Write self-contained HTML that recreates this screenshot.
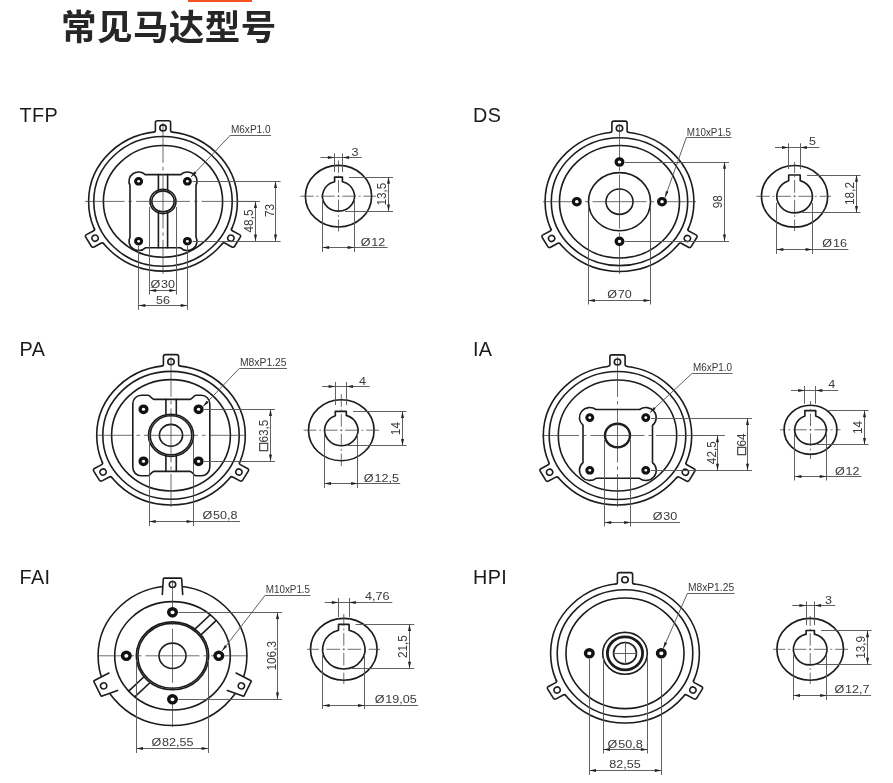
<!DOCTYPE html>
<html lang="zh-CN">
<head>
<meta charset="utf-8">
<title>常见马达型号</title>
<style>
html,body{margin:0;padding:0;background:#fff;}
body{width:893px;height:783px;overflow:hidden;position:relative;font-family:"Liberation Sans","Noto Sans CJK SC",sans-serif;}
.bar{position:absolute;left:188px;top:0;width:64px;height:2px;background:#f4511e;}
h1{position:absolute;left:61.4px;top:1px;margin:0;font-size:35.5px;line-height:54px;font-weight:700;color:#262626;letter-spacing:0.45px;white-space:nowrap;will-change:transform;font-family:"Liberation Sans","Noto Sans CJK SC",sans-serif;}
svg{position:absolute;left:0;top:0;will-change:transform;}
.k{fill:none;stroke:#1c1c1c;stroke-width:1.6;stroke-linecap:round;stroke-linejoin:round;vector-effect:non-scaling-stroke;}
.kf{fill:#fff;vector-effect:non-scaling-stroke;}
.k2{fill:none;stroke:#1c1c1c;stroke-width:1.65;stroke-linejoin:round;}
.b{fill:#fff;stroke:#111;}
.t{stroke:#585858;stroke-width:0.95;fill:none;}
.c{stroke:#3c3c3c;stroke-width:0.75;fill:none;}
.a{fill:#222;stroke:none;}
.d{font-family:"Liberation Sans",sans-serif;font-size:12.6px;fill:#3a3a3a;}
.sq{font-size:14px;stroke:#3a3a3a;stroke-width:0.5;}
.l{font-family:"Liberation Sans",sans-serif;font-size:19.8px;fill:#1a1a1a;letter-spacing:0.35px;}
</style>
</head>
<body>
<div class="bar"></div>
<h1>常见马达型号</h1>
<svg width="893" height="783" viewBox="0 0 893 783">
<text class="l" x="19.6" y="122.4">TFP</text>
<text class="l" x="473" y="122.4">DS</text>
<text class="l" x="19.6" y="355.9">PA</text>
<text class="l" x="473" y="355.9">IA</text>
<text class="l" x="19.6" y="583.9">FAI</text>
<text class="l" x="473" y="583.9">HPI</text>
<g id="tfp">
<ellipse class="k" cx="163" cy="201.4" rx="74.4" ry="69.75"/>
<g transform="translate(163,201.4) scale(1,0.9375) rotate(0)">
<path class="kf" d="M-9.4,-73.83 Q-7.6,-73.83 -7.6,-75.63 L-7.6,-84 Q-7.6,-86 -5.6,-86 L5.6,-86 Q7.6,-86 7.6,-84 L7.6,-75.63 Q7.6,-73.83 9.4,-73.83 L9.4,-71.4 L-9.4,-71.4Z" style="stroke:none"/>
<path class="k" d="M-9.4,-73.83 Q-7.6,-73.83 -7.6,-75.63 L-7.6,-84 Q-7.6,-86 -5.6,-86 L5.6,-86 Q7.6,-86 7.6,-84 L7.6,-75.63 Q7.6,-73.83 9.4,-73.83"/>
<circle class="k" cx="0" cy="-78.4" r="3.2"/>
</g>
<g transform="translate(163,201.4) scale(1,0.9375) rotate(120)">
<path class="kf" d="M-9.4,-73.83 Q-7.6,-73.83 -7.6,-75.63 L-7.6,-84 Q-7.6,-86 -5.6,-86 L5.6,-86 Q7.6,-86 7.6,-84 L7.6,-75.63 Q7.6,-73.83 9.4,-73.83 L9.4,-71.4 L-9.4,-71.4Z" style="stroke:none"/>
<path class="k" d="M-9.4,-73.83 Q-7.6,-73.83 -7.6,-75.63 L-7.6,-84 Q-7.6,-86 -5.6,-86 L5.6,-86 Q7.6,-86 7.6,-84 L7.6,-75.63 Q7.6,-73.83 9.4,-73.83"/>
<circle class="k" cx="0" cy="-78.4" r="3.2"/>
</g>
<g transform="translate(163,201.4) scale(1,0.9375) rotate(240)">
<path class="kf" d="M-9.4,-73.83 Q-7.6,-73.83 -7.6,-75.63 L-7.6,-84 Q-7.6,-86 -5.6,-86 L5.6,-86 Q7.6,-86 7.6,-84 L7.6,-75.63 Q7.6,-73.83 9.4,-73.83 L9.4,-71.4 L-9.4,-71.4Z" style="stroke:none"/>
<path class="k" d="M-9.4,-73.83 Q-7.6,-73.83 -7.6,-75.63 L-7.6,-84 Q-7.6,-86 -5.6,-86 L5.6,-86 Q7.6,-86 7.6,-84 L7.6,-75.63 Q7.6,-73.83 9.4,-73.83"/>
<circle class="k" cx="0" cy="-78.4" r="3.2"/>
</g>
<ellipse class="k" cx="163" cy="201.4" rx="69.2" ry="64.88"/>
<ellipse class="k" cx="163" cy="201.4" rx="59.6" ry="55.88"/>
<path class="k" d="M130,185.44 A9.6,9.31 0 0 1 145.27,174.6 L180.73,174.6 A9.6,9.31 0 0 1 196,185.44 L196,237.06 A9.6,9.31 0 0 1 180.63,247.8 L145.37,247.8 A9.6,9.31 0 0 1 130,237.06 Z"/>
<line class="k" x1="158.4" y1="174.6" x2="158.4" y2="190"/>
<line class="k" x1="158.4" y1="212.6" x2="158.4" y2="247.8"/>
<line class="k" x1="167.6" y1="174.6" x2="167.6" y2="190"/>
<line class="k" x1="167.6" y1="212.6" x2="167.6" y2="247.8"/>
<ellipse class="k" cx="163" cy="201.4" rx="13" ry="12.19"/>
<ellipse class="k" cx="163" cy="201.4" rx="11.2" ry="10.5"/>
<line class="c" x1="163" y1="201.4" x2="85" y2="201.4" stroke-dasharray="27 4 3.5 4 27 0"/>
<line class="c" x1="163" y1="201.4" x2="260" y2="201.4" stroke-dasharray="27 4 3.5 4 27 0"/>
<line class="c" x1="163" y1="201.4" x2="163" y2="123" stroke-dasharray="27 4 3.5 4 27 0"/>
<line class="c" x1="163" y1="201.4" x2="163" y2="274" stroke-dasharray="27 4 3.5 4 27 0"/>
<line class="t" x1="192.5" y1="181.5" x2="280.6" y2="181.5"/>
<line class="t" x1="192.5" y1="241.5" x2="280.6" y2="241.5"/>
<line class="t" x1="275.5" y1="181.3" x2="275.5" y2="241.2"/>
<polygon class="a" points="275.5,181.3 274,188 277,188"/>
<polygon class="a" points="275.5,241.2 274,234.5 277,234.5"/>
<line class="t" x1="236" y1="201.5" x2="259.6" y2="201.5"/>
<text class="d" text-anchor="middle" transform="translate(273.83,210.5) scale(1,0.9375) rotate(-90)">73</text>
<line class="t" x1="255.5" y1="201.4" x2="255.5" y2="241.2"/>
<polygon class="a" points="255.5,201.4 254,208.1 257,208.1"/>
<polygon class="a" points="255.5,241.2 254,234.5 257,234.5"/>
<text class="d" text-anchor="middle" transform="translate(253.33,221) scale(1,0.9375) rotate(-90)">48,5</text>
<line class="t" x1="149.5" y1="207" x2="149.5" y2="294.6"/>
<line class="t" x1="176.5" y1="207" x2="176.5" y2="294.6"/>
<line class="t" x1="149.5" y1="290.5" x2="176" y2="290.5"/>
<polygon class="a" points="149.5,290.5 156.2,289 156.2,292"/>
<polygon class="a" points="176,290.5 169.3,289 169.3,292"/>
<text class="d" text-anchor="middle" transform="translate(162.8,288.36) scale(1,0.9375)">Ø<tspan dx="0.8">30</tspan></text>
<line class="t" x1="138.5" y1="246" x2="138.5" y2="309.8"/>
<line class="t" x1="187.5" y1="246" x2="187.5" y2="309.8"/>
<line class="t" x1="138.6" y1="305.5" x2="187.4" y2="305.5"/>
<polygon class="a" points="138.6,305.5 145.3,304 145.3,307"/>
<polygon class="a" points="187.4,305.5 180.7,304 180.7,307"/>
<text class="d" text-anchor="middle" transform="translate(163,303.56) scale(1,0.9375)">56</text>
<line class="t" x1="191" y1="177" x2="230.5" y2="135"/>
<line class="t" x1="230.5" y1="135.5" x2="271" y2="135.5"/>
<polygon class="a" points="191,177 194.43,171.31 196.47,173.22"/>
<text class="d" transform="translate(230.9,133) scale(1,0.9375)" textLength="39.7" lengthAdjust="spacingAndGlyphs">M6xP1.0</text>
<ellipse class="k2" cx="338.5" cy="196.2" rx="33.1" ry="30.78"/>
<path class="k2" d="M334.6,181.77 L334.6,177.1 L342.4,177.1 L342.4,181.77 A16,14.88 0 1 1 334.6,181.77Z"/>
<line class="c" x1="338.5" y1="196.2" x2="300.5" y2="196.2" stroke-dasharray="1 2.8 13.5 2.8 1 0"/>
<line class="c" x1="338.5" y1="196.2" x2="376" y2="196.2" stroke-dasharray="1 2.8 13.5 2.8 1 0"/>
<line class="c" x1="338.5" y1="196.2" x2="338.5" y2="160.5" stroke-dasharray="0.94 2.62 12.66 2.62 0.94 0"/>
<line class="c" x1="338.5" y1="196.2" x2="338.5" y2="231.5" stroke-dasharray="0.94 2.62 12.66 2.62 0.94 0"/>
<line class="t" x1="334.5" y1="153.3" x2="334.5" y2="172"/>
<line class="t" x1="342.5" y1="153.3" x2="342.5" y2="172"/>
<line class="t" x1="320.5" y1="157.5" x2="361.7" y2="157.5"/>
<polygon class="a" points="334.6,157.5 327.9,156 327.9,159"/>
<polygon class="a" points="342.4,157.5 349.1,156 349.1,159"/>
<text class="d" text-anchor="middle" transform="translate(355,156.06) scale(1,0.9375)">3</text>
<line class="t" x1="349" y1="177.5" x2="393" y2="177.5"/>
<line class="t" x1="345" y1="211.5" x2="393" y2="211.5"/>
<line class="t" x1="388.5" y1="177.1" x2="388.5" y2="211.2"/>
<polygon class="a" points="388.5,177.1 387,183.8 390,183.8"/>
<polygon class="a" points="388.5,211.2 387,204.5 390,204.5"/>
<text class="d" text-anchor="middle" transform="translate(386.43,194.1) scale(1,0.9375) rotate(-90)">13,5</text>
<line class="t" x1="322.5" y1="199" x2="322.5" y2="252"/>
<line class="t" x1="354.5" y1="199" x2="354.5" y2="252"/>
<line class="t" x1="322.4" y1="247.5" x2="387.6" y2="247.5"/>
<polygon class="a" points="322.4,247.5 329.1,246 329.1,249"/>
<polygon class="a" points="354.3,247.5 347.6,246 347.6,249"/>
<text class="d" text-anchor="middle" transform="translate(373,245.96) scale(1,0.9375)">Ø<tspan dx="0.8">12</tspan></text>
<ellipse class="b" cx="138.6" cy="181.3" rx="3" ry="2.81" style="stroke-width:3.0"/>
<ellipse class="b" cx="187.4" cy="181.3" rx="3" ry="2.81" style="stroke-width:3.0"/>
<ellipse class="b" cx="138.6" cy="241.2" rx="3" ry="2.81" style="stroke-width:3.0"/>
<ellipse class="b" cx="187.4" cy="241.2" rx="3" ry="2.81" style="stroke-width:3.0"/>
</g>
<g id="ds">
<ellipse class="k" cx="619.5" cy="201.7" rx="74.4" ry="69.75"/>
<g transform="translate(619.5,201.7) scale(1,0.9375) rotate(0)">
<path class="kf" d="M-9.4,-73.83 Q-7.6,-73.83 -7.6,-75.63 L-7.6,-84 Q-7.6,-86 -5.6,-86 L5.6,-86 Q7.6,-86 7.6,-84 L7.6,-75.63 Q7.6,-73.83 9.4,-73.83 L9.4,-71.4 L-9.4,-71.4Z" style="stroke:none"/>
<path class="k" d="M-9.4,-73.83 Q-7.6,-73.83 -7.6,-75.63 L-7.6,-84 Q-7.6,-86 -5.6,-86 L5.6,-86 Q7.6,-86 7.6,-84 L7.6,-75.63 Q7.6,-73.83 9.4,-73.83"/>
<circle class="k" cx="0" cy="-78.4" r="3.2"/>
</g>
<g transform="translate(619.5,201.7) scale(1,0.9375) rotate(120)">
<path class="kf" d="M-9.4,-73.83 Q-7.6,-73.83 -7.6,-75.63 L-7.6,-84 Q-7.6,-86 -5.6,-86 L5.6,-86 Q7.6,-86 7.6,-84 L7.6,-75.63 Q7.6,-73.83 9.4,-73.83 L9.4,-71.4 L-9.4,-71.4Z" style="stroke:none"/>
<path class="k" d="M-9.4,-73.83 Q-7.6,-73.83 -7.6,-75.63 L-7.6,-84 Q-7.6,-86 -5.6,-86 L5.6,-86 Q7.6,-86 7.6,-84 L7.6,-75.63 Q7.6,-73.83 9.4,-73.83"/>
<circle class="k" cx="0" cy="-78.4" r="3.2"/>
</g>
<g transform="translate(619.5,201.7) scale(1,0.9375) rotate(240)">
<path class="kf" d="M-9.4,-73.83 Q-7.6,-73.83 -7.6,-75.63 L-7.6,-84 Q-7.6,-86 -5.6,-86 L5.6,-86 Q7.6,-86 7.6,-84 L7.6,-75.63 Q7.6,-73.83 9.4,-73.83 L9.4,-71.4 L-9.4,-71.4Z" style="stroke:none"/>
<path class="k" d="M-9.4,-73.83 Q-7.6,-73.83 -7.6,-75.63 L-7.6,-84 Q-7.6,-86 -5.6,-86 L5.6,-86 Q7.6,-86 7.6,-84 L7.6,-75.63 Q7.6,-73.83 9.4,-73.83"/>
<circle class="k" cx="0" cy="-78.4" r="3.2"/>
</g>
<ellipse class="k" cx="619.5" cy="201.7" rx="68.2" ry="63.94"/>
<ellipse class="k" cx="619.5" cy="201.7" rx="60" ry="56.25"/>
<ellipse class="k" cx="619.5" cy="201.7" rx="31" ry="29.06"/>
<ellipse class="k" cx="619.5" cy="201.7" rx="13.5" ry="12.66"/>
<line class="c" x1="619.5" y1="201.7" x2="543" y2="201.7" stroke-dasharray="27 4 3.5 4 27 0"/>
<line class="c" x1="619.5" y1="201.7" x2="696" y2="201.7" stroke-dasharray="27 4 3.5 4 27 0"/>
<line class="c" x1="619.5" y1="201.7" x2="619.5" y2="124" stroke-dasharray="27 4 3.5 4 27 0"/>
<line class="c" x1="619.5" y1="201.7" x2="619.5" y2="274" stroke-dasharray="27 4 3.5 4 27 0"/>
<line class="t" x1="625" y1="162.5" x2="729" y2="162.5"/>
<line class="t" x1="625" y1="241.5" x2="729" y2="241.5"/>
<line class="t" x1="724.5" y1="162" x2="724.5" y2="241.3"/>
<polygon class="a" points="724.5,162 723,168.7 726,168.7"/>
<polygon class="a" points="724.5,241.3 723,234.6 726,234.6"/>
<text class="d" text-anchor="middle" transform="translate(722.33,201.7) scale(1,0.9375) rotate(-90)">98</text>
<line class="t" x1="588.5" y1="207" x2="588.5" y2="304.5"/>
<line class="t" x1="650.5" y1="207" x2="650.5" y2="304.5"/>
<line class="t" x1="588.2" y1="300.5" x2="650.3" y2="300.5"/>
<polygon class="a" points="588.2,300.5 594.9,299 594.9,302"/>
<polygon class="a" points="650.3,300.5 643.6,299 643.6,302"/>
<text class="d" text-anchor="middle" transform="translate(619.5,297.86) scale(1,0.9375)">Ø<tspan dx="0.8">70</tspan></text>
<line class="t" x1="665" y1="197.5" x2="686.3" y2="137.5"/>
<line class="t" x1="686.3" y1="137.5" x2="731.5" y2="137.5"/>
<polygon class="a" points="665,197.5 665.86,190.91 668.49,191.84"/>
<text class="d" transform="translate(686.7,135.5) scale(1,0.9375)" textLength="44.4" lengthAdjust="spacingAndGlyphs">M10xP1.5</text>
<ellipse class="k2" cx="794.6" cy="196.3" rx="33.1" ry="30.78"/>
<path class="k2" d="M788.7,180.68 L788.7,175 L800.2,175 L800.2,180.59 A17.8,16.55 0 1 1 788.7,180.68Z"/>
<line class="c" x1="794.6" y1="196.3" x2="756.5" y2="196.3" stroke-dasharray="1 2.8 13.5 2.8 1 0"/>
<line class="c" x1="794.6" y1="196.3" x2="831" y2="196.3" stroke-dasharray="1 2.8 13.5 2.8 1 0"/>
<line class="c" x1="794.6" y1="196.3" x2="794.6" y2="162" stroke-dasharray="0.94 2.62 12.66 2.62 0.94 0"/>
<line class="c" x1="794.6" y1="196.3" x2="794.6" y2="231" stroke-dasharray="0.94 2.62 12.66 2.62 0.94 0"/>
<line class="t" x1="788.5" y1="143.3" x2="788.5" y2="169"/>
<line class="t" x1="800.5" y1="143.3" x2="800.5" y2="169"/>
<line class="t" x1="775" y1="147.5" x2="819.4" y2="147.5"/>
<polygon class="a" points="788.7,147.5 782,146 782,149"/>
<polygon class="a" points="800.2,147.5 806.9,146 806.9,149"/>
<text class="d" text-anchor="middle" transform="translate(812.6,145.26) scale(1,0.9375)">5</text>
<line class="t" x1="807" y1="175.5" x2="860.5" y2="175.5"/>
<line class="t" x1="802" y1="212.5" x2="860.5" y2="212.5"/>
<line class="t" x1="856.5" y1="175" x2="856.5" y2="212.7"/>
<polygon class="a" points="856.5,175 855,181.7 858,181.7"/>
<polygon class="a" points="856.5,212.7 855,206 858,206"/>
<text class="d" text-anchor="middle" transform="translate(854.33,193.5) scale(1,0.9375) rotate(-90)">18,2</text>
<line class="t" x1="776.5" y1="203" x2="776.5" y2="254"/>
<line class="t" x1="812.5" y1="203" x2="812.5" y2="254"/>
<line class="t" x1="776.6" y1="249.5" x2="848.4" y2="249.5"/>
<polygon class="a" points="776.6,249.5 783.3,248 783.3,251"/>
<polygon class="a" points="812.3,249.5 805.6,248 805.6,251"/>
<text class="d" text-anchor="middle" transform="translate(834.6,247.46) scale(1,0.9375)">Ø<tspan dx="0.8">16</tspan></text>
<ellipse class="b" cx="619.5" cy="162" rx="3.4" ry="3.19" style="stroke-width:3.2"/>
<ellipse class="b" cx="619.5" cy="241.3" rx="3.4" ry="3.19" style="stroke-width:3.2"/>
<ellipse class="b" cx="576.8" cy="201.7" rx="3.4" ry="3.19" style="stroke-width:3.2"/>
<ellipse class="b" cx="662" cy="201.7" rx="3.4" ry="3.19" style="stroke-width:3.2"/>
</g>
<g id="pa">
<ellipse class="k" cx="171" cy="435.3" rx="74.3" ry="69.66"/>
<g transform="translate(171,435.3) scale(1,0.9375) rotate(0)">
<path class="kf" d="M-9.4,-73.83 Q-7.6,-73.83 -7.6,-75.63 L-7.6,-84 Q-7.6,-86 -5.6,-86 L5.6,-86 Q7.6,-86 7.6,-84 L7.6,-75.63 Q7.6,-73.83 9.4,-73.83 L9.4,-71.4 L-9.4,-71.4Z" style="stroke:none"/>
<path class="k" d="M-9.4,-73.83 Q-7.6,-73.83 -7.6,-75.63 L-7.6,-84 Q-7.6,-86 -5.6,-86 L5.6,-86 Q7.6,-86 7.6,-84 L7.6,-75.63 Q7.6,-73.83 9.4,-73.83"/>
<circle class="k" cx="0" cy="-78.4" r="3.2"/>
</g>
<g transform="translate(171,435.3) scale(1,0.9375) rotate(120)">
<path class="kf" d="M-9.4,-73.83 Q-7.6,-73.83 -7.6,-75.63 L-7.6,-84 Q-7.6,-86 -5.6,-86 L5.6,-86 Q7.6,-86 7.6,-84 L7.6,-75.63 Q7.6,-73.83 9.4,-73.83 L9.4,-71.4 L-9.4,-71.4Z" style="stroke:none"/>
<path class="k" d="M-9.4,-73.83 Q-7.6,-73.83 -7.6,-75.63 L-7.6,-84 Q-7.6,-86 -5.6,-86 L5.6,-86 Q7.6,-86 7.6,-84 L7.6,-75.63 Q7.6,-73.83 9.4,-73.83"/>
<circle class="k" cx="0" cy="-78.4" r="3.2"/>
</g>
<g transform="translate(171,435.3) scale(1,0.9375) rotate(240)">
<path class="kf" d="M-9.4,-73.83 Q-7.6,-73.83 -7.6,-75.63 L-7.6,-84 Q-7.6,-86 -5.6,-86 L5.6,-86 Q7.6,-86 7.6,-84 L7.6,-75.63 Q7.6,-73.83 9.4,-73.83 L9.4,-71.4 L-9.4,-71.4Z" style="stroke:none"/>
<path class="k" d="M-9.4,-73.83 Q-7.6,-73.83 -7.6,-75.63 L-7.6,-84 Q-7.6,-86 -5.6,-86 L5.6,-86 Q7.6,-86 7.6,-84 L7.6,-75.63 Q7.6,-73.83 9.4,-73.83"/>
<circle class="k" cx="0" cy="-78.4" r="3.2"/>
</g>
<ellipse class="k" cx="171" cy="435.3" rx="68.2" ry="63.94"/>
<ellipse class="k" cx="171" cy="435.3" rx="59.4" ry="55.69"/>
<path class="k" d="M132.8,403.8 A8.5,8.5 0 0 1 141.3,395.3 L148,395.3 C150.5,395.3 151.5,399.4 154,399.4 L190,399.4 C192.5,399.4 193.5,395.3 196,395.3 L201.3,395.3 A8.5,8.5 0 0 1 209.8,403.8 L209.8,467.3 A8.5,8.5 0 0 1 201.3,475.8 L196,475.8 C193.5,475.8 192.5,471.4 190,471.4 L154,471.4 C151.5,471.4 150.5,475.8 148,475.8 L141.3,475.8 A8.5,8.5 0 0 1 132.8,467.3 Z"/>
<line class="k" x1="165.9" y1="399.4" x2="165.9" y2="415.2"/>
<line class="k" x1="165.9" y1="455.6" x2="165.9" y2="471.4"/>
<line class="k" x1="176.3" y1="399.4" x2="176.3" y2="415.2"/>
<line class="k" x1="176.3" y1="455.6" x2="176.3" y2="471.4"/>
<ellipse class="k" cx="171" cy="435.3" rx="22.5" ry="21.09"/>
<ellipse class="k" cx="171" cy="435.3" rx="20.8" ry="19.5"/>
<ellipse class="k" cx="171" cy="435.3" rx="11.6" ry="10.88"/>
<line class="c" x1="171" y1="435.3" x2="96" y2="435.3" stroke-dasharray="27 4 3.5 4 27 0"/>
<line class="c" x1="171" y1="435.3" x2="246" y2="435.3" stroke-dasharray="27 4 3.5 4 27 0"/>
<line class="c" x1="171" y1="435.3" x2="171" y2="357" stroke-dasharray="27 4 3.5 4 27 0"/>
<line class="c" x1="171" y1="435.3" x2="171" y2="507" stroke-dasharray="27 4 3.5 4 27 0"/>
<line class="t" x1="204" y1="409.5" x2="275" y2="409.5"/>
<line class="t" x1="204" y1="461.5" x2="275" y2="461.5"/>
<line class="t" x1="270.5" y1="409.3" x2="270.5" y2="461.3"/>
<polygon class="a" points="270.5,409.3 269,416 272,416"/>
<polygon class="a" points="270.5,461.3 269,454.6 272,454.6"/>
<text class="d" text-anchor="middle" transform="translate(268.13,435.3) scale(1,0.9375) rotate(-90)"><tspan class="sq">□</tspan><tspan dx="0.6">63,5</tspan></text>
<line class="t" x1="149.5" y1="440" x2="149.5" y2="526"/>
<line class="t" x1="193.5" y1="440" x2="193.5" y2="526"/>
<line class="t" x1="149" y1="521.5" x2="240" y2="521.5"/>
<polygon class="a" points="149,521.5 155.7,520 155.7,523"/>
<polygon class="a" points="193.3,521.5 186.6,520 186.6,523"/>
<text class="d" text-anchor="middle" transform="translate(220,519.06) scale(1,0.9375)">Ø<tspan dx="0.8">50,8</tspan></text>
<line class="t" x1="203" y1="406.5" x2="239.5" y2="368.2"/>
<line class="t" x1="239.5" y1="368.5" x2="287" y2="368.5"/>
<polygon class="a" points="203,406.5 206.47,400.83 208.5,402.76"/>
<text class="d" transform="translate(239.9,366.2) scale(1,0.9375)" textLength="46.7" lengthAdjust="spacingAndGlyphs">M8xP1.25</text>
<ellipse class="k2" cx="341.3" cy="430.2" rx="32.8" ry="30.5"/>
<path class="k2" d="M335.3,415.71 L335.3,411.4 L346.3,411.4 L346.3,415.38 A16.7,15.53 0 1 1 335.3,415.71Z"/>
<line class="c" x1="341.3" y1="430.2" x2="303.5" y2="430.2" stroke-dasharray="1 2.8 13.5 2.8 1 0"/>
<line class="c" x1="341.3" y1="430.2" x2="379" y2="430.2" stroke-dasharray="1 2.8 13.5 2.8 1 0"/>
<line class="c" x1="341.3" y1="430.2" x2="341.3" y2="394" stroke-dasharray="0.94 2.62 12.66 2.62 0.94 0"/>
<line class="c" x1="341.3" y1="430.2" x2="341.3" y2="468" stroke-dasharray="0.94 2.62 12.66 2.62 0.94 0"/>
<line class="t" x1="335.5" y1="382" x2="335.5" y2="405"/>
<line class="t" x1="346.5" y1="382" x2="346.5" y2="405"/>
<line class="t" x1="322.1" y1="386.5" x2="369.6" y2="386.5"/>
<polygon class="a" points="335.3,386.5 328.6,385 328.6,388"/>
<polygon class="a" points="346.3,386.5 353,385 353,388"/>
<text class="d" text-anchor="middle" transform="translate(362.5,384.76) scale(1,0.9375)">4</text>
<line class="t" x1="353" y1="411.5" x2="406.5" y2="411.5"/>
<line class="t" x1="348" y1="445.5" x2="406.5" y2="445.5"/>
<line class="t" x1="402.5" y1="411.4" x2="402.5" y2="445.6"/>
<polygon class="a" points="402.5,411.4 401,418.1 404,418.1"/>
<polygon class="a" points="402.5,445.6 401,438.9 404,438.9"/>
<text class="d" text-anchor="middle" transform="translate(400.33,428.6) scale(1,0.9375) rotate(-90)">14</text>
<line class="t" x1="324.5" y1="434" x2="324.5" y2="488"/>
<line class="t" x1="357.5" y1="434" x2="357.5" y2="488"/>
<line class="t" x1="324.3" y1="483.5" x2="400.2" y2="483.5"/>
<polygon class="a" points="324.3,483.5 331,482 331,485"/>
<polygon class="a" points="357.8,483.5 351.1,482 351.1,485"/>
<text class="d" text-anchor="middle" transform="translate(381.4,481.66) scale(1,0.9375)">Ø<tspan dx="0.8">12,5</tspan></text>
<ellipse class="b" cx="143.5" cy="409.3" rx="3.4" ry="3.19" style="stroke-width:3.3"/>
<ellipse class="b" cx="198.6" cy="409.3" rx="3.4" ry="3.19" style="stroke-width:3.3"/>
<ellipse class="b" cx="143.5" cy="461.3" rx="3.4" ry="3.19" style="stroke-width:3.3"/>
<ellipse class="b" cx="198.6" cy="461.3" rx="3.4" ry="3.19" style="stroke-width:3.3"/>
</g>
<g id="ia">
<ellipse class="k" cx="617.5" cy="435.5" rx="74.2" ry="69.56"/>
<g transform="translate(617.5,435.5) scale(1,0.9375) rotate(0)">
<path class="kf" d="M-9.4,-73.83 Q-7.6,-73.83 -7.6,-75.63 L-7.6,-84 Q-7.6,-86 -5.6,-86 L5.6,-86 Q7.6,-86 7.6,-84 L7.6,-75.63 Q7.6,-73.83 9.4,-73.83 L9.4,-71.4 L-9.4,-71.4Z" style="stroke:none"/>
<path class="k" d="M-9.4,-73.83 Q-7.6,-73.83 -7.6,-75.63 L-7.6,-84 Q-7.6,-86 -5.6,-86 L5.6,-86 Q7.6,-86 7.6,-84 L7.6,-75.63 Q7.6,-73.83 9.4,-73.83"/>
<circle class="k" cx="0" cy="-78.4" r="3.2"/>
</g>
<g transform="translate(617.5,435.5) scale(1,0.9375) rotate(120)">
<path class="kf" d="M-9.4,-73.83 Q-7.6,-73.83 -7.6,-75.63 L-7.6,-84 Q-7.6,-86 -5.6,-86 L5.6,-86 Q7.6,-86 7.6,-84 L7.6,-75.63 Q7.6,-73.83 9.4,-73.83 L9.4,-71.4 L-9.4,-71.4Z" style="stroke:none"/>
<path class="k" d="M-9.4,-73.83 Q-7.6,-73.83 -7.6,-75.63 L-7.6,-84 Q-7.6,-86 -5.6,-86 L5.6,-86 Q7.6,-86 7.6,-84 L7.6,-75.63 Q7.6,-73.83 9.4,-73.83"/>
<circle class="k" cx="0" cy="-78.4" r="3.2"/>
</g>
<g transform="translate(617.5,435.5) scale(1,0.9375) rotate(240)">
<path class="kf" d="M-9.4,-73.83 Q-7.6,-73.83 -7.6,-75.63 L-7.6,-84 Q-7.6,-86 -5.6,-86 L5.6,-86 Q7.6,-86 7.6,-84 L7.6,-75.63 Q7.6,-73.83 9.4,-73.83 L9.4,-71.4 L-9.4,-71.4Z" style="stroke:none"/>
<path class="k" d="M-9.4,-73.83 Q-7.6,-73.83 -7.6,-75.63 L-7.6,-84 Q-7.6,-86 -5.6,-86 L5.6,-86 Q7.6,-86 7.6,-84 L7.6,-75.63 Q7.6,-73.83 9.4,-73.83"/>
<circle class="k" cx="0" cy="-78.4" r="3.2"/>
</g>
<ellipse class="k" cx="617.5" cy="435.5" rx="68.3" ry="64.03"/>
<ellipse class="k" cx="617.5" cy="435.5" rx="59.2" ry="55.5"/>
<path class="k" d="M583,425.23 A10.4,10.09 0 0 1 596,409.5 L639.6,409.5 A10.4,10.09 0 0 1 652.5,425.32 L652.5,462.58 A10.4,10.09 0 0 1 639.46,478.3 L596.14,478.3 A10.4,10.09 0 0 1 583,462.67 Z"/>
<ellipse class="k" cx="617.5" cy="435.5" rx="12.5" ry="11.72" style="stroke-width:2.4"/>
<line class="c" x1="617.5" y1="435.5" x2="542" y2="435.5" stroke-dasharray="27 4 3.5 4 27 0"/>
<line class="c" x1="617.5" y1="435.5" x2="725" y2="435.5" stroke-dasharray="27 4 3.5 4 27 0"/>
<line class="c" x1="617.5" y1="435.5" x2="617.5" y2="357" stroke-dasharray="27 4 3.5 4 27 0"/>
<line class="c" x1="617.5" y1="435.5" x2="617.5" y2="507" stroke-dasharray="27 4 3.5 4 27 0"/>
<line class="t" x1="651" y1="418.5" x2="752" y2="418.5"/>
<line class="t" x1="651" y1="470.5" x2="752" y2="470.5"/>
<line class="t" x1="747.5" y1="418.2" x2="747.5" y2="470.4"/>
<polygon class="a" points="747.5,418.2 746,424.9 749,424.9"/>
<polygon class="a" points="747.5,470.4 746,463.7 749,463.7"/>
<line class="t" x1="694" y1="435.5" x2="722.6" y2="435.5"/>
<text class="d" text-anchor="middle" transform="translate(746.03,444.2) scale(1,0.9375) rotate(-90)"><tspan class="sq">□</tspan><tspan dx="0.6">64</tspan></text>
<line class="t" x1="717.5" y1="435.5" x2="717.5" y2="470.4"/>
<polygon class="a" points="717.5,435.5 716,442.2 719,442.2"/>
<polygon class="a" points="717.5,470.4 716,463.7 719,463.7"/>
<text class="d" text-anchor="middle" transform="translate(716.33,452.7) scale(1,0.9375) rotate(-90)">42,5</text>
<line class="t" x1="604.5" y1="440" x2="604.5" y2="526.5"/>
<line class="t" x1="630.5" y1="440" x2="630.5" y2="526.5"/>
<line class="t" x1="604.5" y1="522.5" x2="680" y2="522.5"/>
<polygon class="a" points="604.5,522.5 611.2,521 611.2,524"/>
<polygon class="a" points="630.8,522.5 624.1,521 624.1,524"/>
<text class="d" text-anchor="middle" transform="translate(665,520.36) scale(1,0.9375)">Ø<tspan dx="0.8">30</tspan></text>
<line class="t" x1="650" y1="412.5" x2="692.5" y2="373"/>
<line class="t" x1="692.5" y1="373.5" x2="732.5" y2="373.5"/>
<polygon class="a" points="650,412.5 653.81,407.05 655.71,409.1"/>
<text class="d" transform="translate(692.9,371) scale(1,0.9375)" textLength="39.2" lengthAdjust="spacingAndGlyphs">M6xP1.0</text>
<ellipse class="k2" cx="810.5" cy="429.8" rx="26.4" ry="24.55"/>
<path class="k2" d="M804.9,416.06 L804.9,410.6 L815.7,410.6 L815.7,415.92 A15.8,14.69 0 1 1 804.9,416.06Z"/>
<line class="c" x1="810.5" y1="429.8" x2="780" y2="429.8" stroke-dasharray="1 2.8 13.5 2.8 1 0"/>
<line class="c" x1="810.5" y1="429.8" x2="840.5" y2="429.8" stroke-dasharray="1 2.8 13.5 2.8 1 0"/>
<line class="c" x1="810.5" y1="429.8" x2="810.5" y2="401" stroke-dasharray="0.94 2.62 12.66 2.62 0.94 0"/>
<line class="c" x1="810.5" y1="429.8" x2="810.5" y2="459" stroke-dasharray="0.94 2.62 12.66 2.62 0.94 0"/>
<line class="t" x1="804.5" y1="386" x2="804.5" y2="403.8"/>
<line class="t" x1="815.5" y1="386" x2="815.5" y2="403.8"/>
<line class="t" x1="791" y1="390.5" x2="838.4" y2="390.5"/>
<polygon class="a" points="804.9,390.5 798.2,389 798.2,392"/>
<polygon class="a" points="815.7,390.5 822.4,389 822.4,392"/>
<text class="d" text-anchor="middle" transform="translate(831.7,388.46) scale(1,0.9375)">4</text>
<line class="t" x1="827" y1="410.5" x2="868.5" y2="410.5"/>
<line class="t" x1="817" y1="444.5" x2="868.5" y2="444.5"/>
<line class="t" x1="864.5" y1="410.6" x2="864.5" y2="444.6"/>
<polygon class="a" points="864.5,410.6 863,417.3 866,417.3"/>
<polygon class="a" points="864.5,444.6 863,437.9 866,437.9"/>
<text class="d" text-anchor="middle" transform="translate(861.83,427.5) scale(1,0.9375) rotate(-90)">14</text>
<line class="t" x1="794.5" y1="434" x2="794.5" y2="480.5"/>
<line class="t" x1="826.5" y1="434" x2="826.5" y2="480.5"/>
<line class="t" x1="794.8" y1="476.5" x2="861.4" y2="476.5"/>
<polygon class="a" points="794.8,476.5 801.5,475 801.5,478"/>
<polygon class="a" points="826.4,476.5 819.7,475 819.7,478"/>
<text class="d" text-anchor="middle" transform="translate(847.2,474.86) scale(1,0.9375)">Ø<tspan dx="0.8">12</tspan></text>
<ellipse class="b" cx="589.8" cy="417.6" rx="3" ry="2.81" style="stroke-width:3.0"/>
<ellipse class="b" cx="645.8" cy="417.6" rx="3" ry="2.81" style="stroke-width:3.0"/>
<ellipse class="b" cx="589.8" cy="470.3" rx="3" ry="2.81" style="stroke-width:3.0"/>
<ellipse class="b" cx="645.8" cy="470.3" rx="3" ry="2.81" style="stroke-width:3.0"/>
</g>
<g id="fai">
<ellipse class="k" cx="172.5" cy="655.8" rx="74.4" ry="69.75"/>
<g transform="translate(172.5,655.8) scale(1,0.9375) rotate(0)">
<path class="kf" d="M-10,-71.4 L-9.2,-81.9 L9.2,-81.9 L10,-71.4Z" style="stroke:none"/>
<path class="k" d="M-10.2,-65.4 L-9.2,-81.9 Q-9.2,-82.9 -8.2,-82.9 L8.2,-82.9 Q9.2,-82.9 9.2,-81.9 L10.2,-65.4"/>
<circle class="k" cx="0" cy="-76" r="3.2"/>
</g>
<g transform="translate(172.5,655.8) scale(1,0.9375) rotate(115)">
<path class="kf" d="M-10,-71.4 L-9.2,-81.9 L9.2,-81.9 L10,-71.4Z" style="stroke:none"/>
<path class="k" d="M-10.2,-65.4 L-9.2,-81.9 Q-9.2,-82.9 -8.2,-82.9 L8.2,-82.9 Q9.2,-82.9 9.2,-81.9 L10.2,-65.4"/>
<circle class="k" cx="0" cy="-76" r="3.2"/>
</g>
<g transform="translate(172.5,655.8) scale(1,0.9375) rotate(245)">
<path class="kf" d="M-10,-71.4 L-9.2,-81.9 L9.2,-81.9 L10,-71.4Z" style="stroke:none"/>
<path class="k" d="M-10.2,-65.4 L-9.2,-81.9 Q-9.2,-82.9 -8.2,-82.9 L8.2,-82.9 Q9.2,-82.9 9.2,-81.9 L10.2,-65.4"/>
<circle class="k" cx="0" cy="-76" r="3.2"/>
</g>
<ellipse class="k" cx="172.5" cy="655.8" rx="57.8" ry="54.19"/>
<g transform="translate(172.5,655.8) scale(1,0.9375)">
<line class="k" x1="22.38" y1="-28.46" x2="37.72" y2="-43.8"/>
<line class="k" x1="28.46" y1="-22.38" x2="43.8" y2="-37.72"/>
<line class="k" x1="-28.46" y1="22.38" x2="-43.8" y2="37.72"/>
<line class="k" x1="-22.38" y1="28.46" x2="-37.72" y2="43.8"/>
</g>
<ellipse class="k" cx="172.5" cy="655.8" rx="36.2" ry="33.94"/>
<ellipse class="k" cx="172.5" cy="655.8" rx="34.6" ry="32.44"/>
<ellipse class="k" cx="172.5" cy="655.8" rx="13.5" ry="12.66"/>
<line class="c" x1="172.5" y1="655.8" x2="97" y2="655.8" stroke-dasharray="27 4 3.5 4 27 0"/>
<line class="c" x1="172.5" y1="655.8" x2="248" y2="655.8" stroke-dasharray="27 4 3.5 4 27 0"/>
<line class="c" x1="172.5" y1="655.8" x2="172.5" y2="580" stroke-dasharray="27 4 3.5 4 27 0"/>
<line class="c" x1="172.5" y1="655.8" x2="172.5" y2="727" stroke-dasharray="27 4 3.5 4 27 0"/>
<line class="t" x1="178.5" y1="612.5" x2="282" y2="612.5"/>
<line class="t" x1="178.5" y1="699.5" x2="282" y2="699.5"/>
<line class="t" x1="277.5" y1="612.3" x2="277.5" y2="699.3"/>
<polygon class="a" points="277.5,612.3 276,619 279,619"/>
<polygon class="a" points="277.5,699.3 276,692.6 279,692.6"/>
<text class="d" text-anchor="middle" transform="translate(275.63,655.8) scale(1,0.9375) rotate(-90)">106,3</text>
<line class="t" x1="136.5" y1="660" x2="136.5" y2="753"/>
<line class="t" x1="208.5" y1="660" x2="208.5" y2="753"/>
<line class="t" x1="136.3" y1="748.5" x2="208.3" y2="748.5"/>
<polygon class="a" points="136.3,748.5 143,747 143,750"/>
<polygon class="a" points="208.3,748.5 201.6,747 201.6,750"/>
<text class="d" text-anchor="middle" transform="translate(172.5,746.46) scale(1,0.9375)">Ø<tspan dx="0.8">82,55</tspan></text>
<line class="t" x1="222" y1="651" x2="265.3" y2="595.1"/>
<line class="t" x1="265.3" y1="595.5" x2="310.5" y2="595.5"/>
<polygon class="a" points="222,651 224.87,645 227.09,646.72"/>
<text class="d" transform="translate(265.7,593.1) scale(1,0.9375)" textLength="44.4" lengthAdjust="spacingAndGlyphs">M10xP1.5</text>
<ellipse class="k2" cx="343.8" cy="649.3" rx="33.3" ry="30.97"/>
<path class="k2" d="M338.5,630.21 L338.5,624.4 L349.1,624.4 L349.1,630.21 A21.2,19.72 0 1 1 338.5,630.21Z"/>
<line class="c" x1="343.8" y1="649.3" x2="307" y2="649.3" stroke-dasharray="1 2.8 13.5 2.8 1 0"/>
<line class="c" x1="343.8" y1="649.3" x2="380" y2="649.3" stroke-dasharray="1 2.8 13.5 2.8 1 0"/>
<line class="c" x1="343.8" y1="649.3" x2="343.8" y2="614" stroke-dasharray="0.94 2.62 12.66 2.62 0.94 0"/>
<line class="c" x1="343.8" y1="649.3" x2="343.8" y2="684" stroke-dasharray="0.94 2.62 12.66 2.62 0.94 0"/>
<line class="t" x1="338.5" y1="598" x2="338.5" y2="617"/>
<line class="t" x1="349.5" y1="598" x2="349.5" y2="617"/>
<line class="t" x1="324.7" y1="602.5" x2="392.3" y2="602.5"/>
<polygon class="a" points="338.5,602.5 331.8,601 331.8,604"/>
<polygon class="a" points="349.1,602.5 355.8,601 355.8,604"/>
<text class="d" text-anchor="middle" transform="translate(377.3,600.46) scale(1,0.9375)">4,76</text>
<line class="t" x1="355.5" y1="624.5" x2="414.2" y2="624.5"/>
<line class="t" x1="352" y1="668.5" x2="414.2" y2="668.5"/>
<line class="t" x1="409.5" y1="624.4" x2="409.5" y2="668.5"/>
<polygon class="a" points="409.5,624.4 408,631.1 411,631.1"/>
<polygon class="a" points="409.5,668.5 408,661.8 411,661.8"/>
<text class="d" text-anchor="middle" transform="translate(407.33,646.6) scale(1,0.9375) rotate(-90)">21,5</text>
<line class="t" x1="322.5" y1="655" x2="322.5" y2="709"/>
<line class="t" x1="364.5" y1="655" x2="364.5" y2="709"/>
<line class="t" x1="322.9" y1="705.5" x2="418" y2="705.5"/>
<polygon class="a" points="322.9,705.5 329.6,704 329.6,707"/>
<polygon class="a" points="364.7,705.5 358,704 358,707"/>
<text class="d" text-anchor="middle" transform="translate(395.7,702.86) scale(1,0.9375)">Ø<tspan dx="0.8">19,05</tspan></text>
<ellipse class="b" cx="172.5" cy="612.3" rx="3.8" ry="3.56" style="stroke-width:3.4"/>
<ellipse class="b" cx="172.5" cy="699.3" rx="3.8" ry="3.56" style="stroke-width:3.4"/>
<ellipse class="b" cx="126.3" cy="655.8" rx="3.8" ry="3.56" style="stroke-width:3.4"/>
<ellipse class="b" cx="218.8" cy="655.8" rx="3.8" ry="3.56" style="stroke-width:3.4"/>
</g>
<g id="hpi">
<ellipse class="k" cx="625" cy="653.3" rx="74.4" ry="69.75"/>
<g transform="translate(625,653.3) scale(1,0.9375) rotate(0)">
<path class="kf" d="M-9.4,-73.83 Q-7.6,-73.83 -7.6,-75.63 L-7.6,-84 Q-7.6,-86 -5.6,-86 L5.6,-86 Q7.6,-86 7.6,-84 L7.6,-75.63 Q7.6,-73.83 9.4,-73.83 L9.4,-71.4 L-9.4,-71.4Z" style="stroke:none"/>
<path class="k" d="M-9.4,-73.83 Q-7.6,-73.83 -7.6,-75.63 L-7.6,-84 Q-7.6,-86 -5.6,-86 L5.6,-86 Q7.6,-86 7.6,-84 L7.6,-75.63 Q7.6,-73.83 9.4,-73.83"/>
<circle class="k" cx="0" cy="-78.4" r="3.2"/>
</g>
<g transform="translate(625,653.3) scale(1,0.9375) rotate(120)">
<path class="kf" d="M-9.4,-73.83 Q-7.6,-73.83 -7.6,-75.63 L-7.6,-84 Q-7.6,-86 -5.6,-86 L5.6,-86 Q7.6,-86 7.6,-84 L7.6,-75.63 Q7.6,-73.83 9.4,-73.83 L9.4,-71.4 L-9.4,-71.4Z" style="stroke:none"/>
<path class="k" d="M-9.4,-73.83 Q-7.6,-73.83 -7.6,-75.63 L-7.6,-84 Q-7.6,-86 -5.6,-86 L5.6,-86 Q7.6,-86 7.6,-84 L7.6,-75.63 Q7.6,-73.83 9.4,-73.83"/>
<circle class="k" cx="0" cy="-78.4" r="3.2"/>
</g>
<g transform="translate(625,653.3) scale(1,0.9375) rotate(240)">
<path class="kf" d="M-9.4,-73.83 Q-7.6,-73.83 -7.6,-75.63 L-7.6,-84 Q-7.6,-86 -5.6,-86 L5.6,-86 Q7.6,-86 7.6,-84 L7.6,-75.63 Q7.6,-73.83 9.4,-73.83 L9.4,-71.4 L-9.4,-71.4Z" style="stroke:none"/>
<path class="k" d="M-9.4,-73.83 Q-7.6,-73.83 -7.6,-75.63 L-7.6,-84 Q-7.6,-86 -5.6,-86 L5.6,-86 Q7.6,-86 7.6,-84 L7.6,-75.63 Q7.6,-73.83 9.4,-73.83"/>
<circle class="k" cx="0" cy="-78.4" r="3.2"/>
</g>
<ellipse class="k" cx="625" cy="653.3" rx="67.8" ry="63.56"/>
<ellipse class="k" cx="625" cy="653.3" rx="59" ry="55.31"/>
<ellipse class="k" cx="625" cy="653.3" rx="22.3" ry="20.91"/>
<ellipse class="k" cx="625" cy="653.3" rx="17.6" ry="16.5" style="stroke-width:2.8"/>
<ellipse class="k" cx="625" cy="653.3" rx="11.5" ry="10.78"/>
<line class="t" x1="613" y1="653.5" x2="637" y2="653.5"/>
<line class="t" x1="625.5" y1="641.5" x2="625.5" y2="665"/>
<line class="t" x1="603.5" y1="658" x2="603.5" y2="753.5"/>
<line class="t" x1="647.5" y1="658" x2="647.5" y2="753.5"/>
<line class="t" x1="603.3" y1="749.5" x2="647.6" y2="749.5"/>
<polygon class="a" points="603.3,749.5 610,748 610,751"/>
<polygon class="a" points="647.6,749.5 640.9,748 640.9,751"/>
<text class="d" text-anchor="middle" transform="translate(625.1,747.76) scale(1,0.9375)">Ø<tspan dx="0.8">50,8</tspan></text>
<line class="t" x1="589.5" y1="659" x2="589.5" y2="775"/>
<line class="t" x1="661.5" y1="659" x2="661.5" y2="775"/>
<line class="t" x1="589.3" y1="770.5" x2="661.5" y2="770.5"/>
<polygon class="a" points="589.3,770.5 596,769 596,772"/>
<polygon class="a" points="661.5,770.5 654.8,769 654.8,772"/>
<text class="d" text-anchor="middle" transform="translate(625.1,767.96) scale(1,0.9375)">82,55</text>
<line class="t" x1="663.2" y1="648.6" x2="687.5" y2="593.2"/>
<line class="t" x1="687.5" y1="593.5" x2="734.5" y2="593.5"/>
<polygon class="a" points="663.2,648.6 664.53,642.09 667.09,643.21"/>
<text class="d" transform="translate(687.9,591.2) scale(1,0.9375)" textLength="46.2" lengthAdjust="spacingAndGlyphs">M8xP1.25</text>
<ellipse class="k2" cx="810.2" cy="649.3" rx="33.3" ry="30.97"/>
<path class="k2" d="M806.1,634.15 L806.1,630.5 L814.4,630.5 L814.4,634.17 A16.8,15.62 0 1 1 806.1,634.15Z"/>
<line class="c" x1="810.2" y1="649.3" x2="773" y2="649.3" stroke-dasharray="1 2.8 13.5 2.8 1 0"/>
<line class="c" x1="810.2" y1="649.3" x2="848" y2="649.3" stroke-dasharray="1 2.8 13.5 2.8 1 0"/>
<line class="c" x1="810.2" y1="649.3" x2="810.2" y2="616" stroke-dasharray="0.94 2.62 12.66 2.62 0.94 0"/>
<line class="c" x1="810.2" y1="649.3" x2="810.2" y2="684" stroke-dasharray="0.94 2.62 12.66 2.62 0.94 0"/>
<line class="t" x1="806.5" y1="601.4" x2="806.5" y2="625"/>
<line class="t" x1="814.5" y1="601.4" x2="814.5" y2="625"/>
<line class="t" x1="792.2" y1="605.5" x2="835.2" y2="605.5"/>
<polygon class="a" points="806.1,605.5 799.4,604 799.4,607"/>
<polygon class="a" points="814.4,605.5 821.1,604 821.1,607"/>
<text class="d" text-anchor="middle" transform="translate(828.5,603.86) scale(1,0.9375)">3</text>
<line class="t" x1="821" y1="630.5" x2="871.5" y2="630.5"/>
<line class="t" x1="817" y1="664.5" x2="871.5" y2="664.5"/>
<line class="t" x1="867.5" y1="630.5" x2="867.5" y2="664.5"/>
<polygon class="a" points="867.5,630.5 866,637.2 869,637.2"/>
<polygon class="a" points="867.5,664.5 866,657.8 869,657.8"/>
<text class="d" text-anchor="middle" transform="translate(864.83,647.3) scale(1,0.9375) rotate(-90)">13,9</text>
<line class="t" x1="793.5" y1="655" x2="793.5" y2="700"/>
<line class="t" x1="826.5" y1="655" x2="826.5" y2="700"/>
<line class="t" x1="793.3" y1="695.5" x2="871" y2="695.5"/>
<polygon class="a" points="793.3,695.5 800,694 800,697"/>
<polygon class="a" points="826.9,695.5 820.2,694 820.2,697"/>
<text class="d" text-anchor="middle" transform="translate(852,693.46) scale(1,0.9375)">Ø<tspan dx="0.8">12,7</tspan></text>
<ellipse class="b" cx="589.3" cy="653.3" rx="3.8" ry="3.56" style="stroke-width:3.4"/>
<ellipse class="b" cx="661.3" cy="653.3" rx="3.8" ry="3.56" style="stroke-width:3.4"/>
</g>
</svg>
</body>
</html>
